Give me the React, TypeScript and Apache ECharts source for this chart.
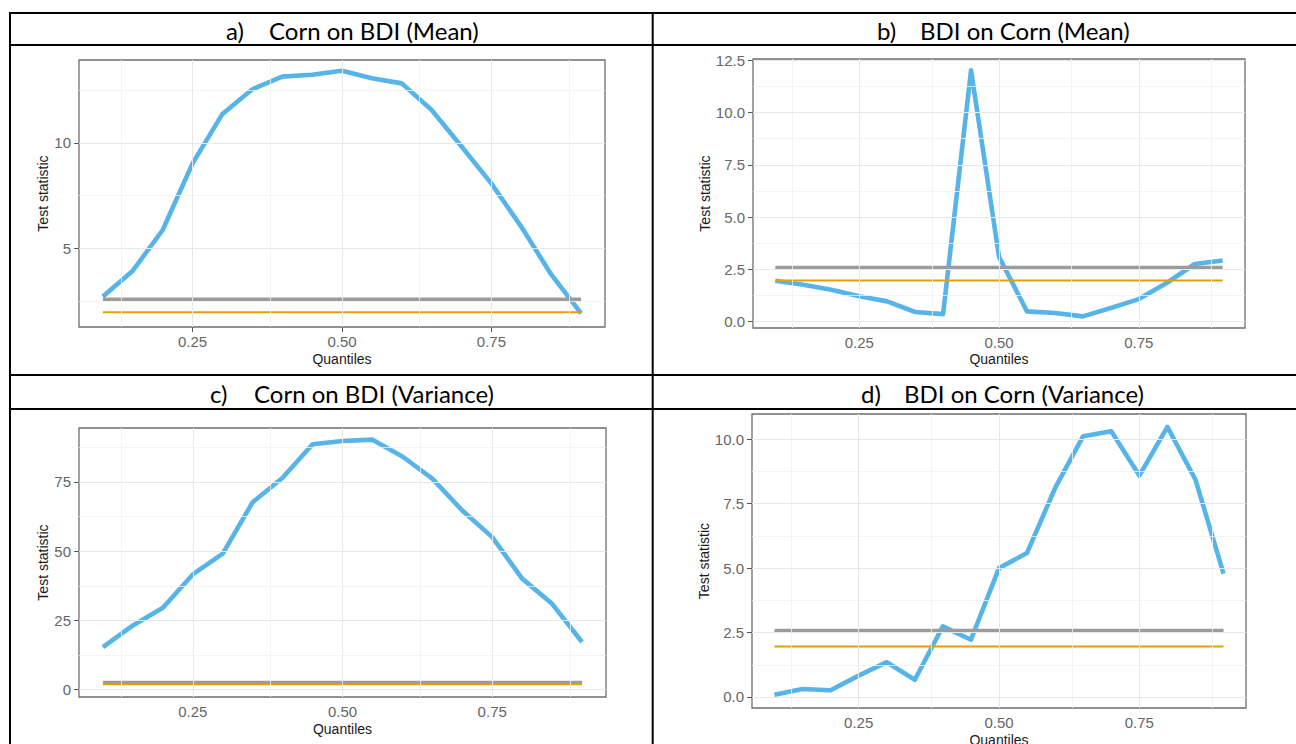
import React, { useEffect, useRef } from "react";
import * as echarts from "echarts";

// ---- data ----
const quantiles = [0.1, 0.15, 0.2, 0.25, 0.3, 0.35, 0.4, 0.45, 0.5, 0.55, 0.6, 0.65, 0.7, 0.75, 0.8, 0.85, 0.9];
const cornOnBdiMean = [2.71, 3.94, 5.87, 9.03, 11.38, 12.55, 13.15, 13.24, 13.43, 13.07, 12.83, 11.57, 9.83, 8.07, 6.02, 3.76, 1.91];
const bdiOnCornMean = [1.95, 1.76, 1.52, 1.2, 0.96, 0.45, 0.35, 12.03, 3.1, 0.48, 0.4, 0.24, 0.64, 1.07, 1.84, 2.75, 2.92];
const cornOnBdiVariance = [15.4, 23.2, 29.6, 41.6, 49.1, 67.7, 76.5, 88.6, 89.8, 90.3, 84.2, 76.2, 64.7, 55.1, 40.1, 31.0, 17.2];
const bdiOnCornVariance = [0.09, 0.31, 0.26, 0.83, 1.35, 0.67, 2.74, 2.22, 5.0, 5.59, 8.11, 10.12, 10.31, 8.59, 10.48, 8.43, 4.79];
const critical1pct = 2.58;
const critical5pct = 1.96;

const titles = [
  ["a)", "Corn on BDI (Mean)"],
  ["b)", "BDI on Corn (Mean)"],
  ["c)", "Corn on BDI (Variance)"],
  ["d)", "BDI on Corn (Variance)"],
];

const xTicks = [0.25, 0.5, 0.75];
const xMinor = [0.125, 0.375, 0.625, 0.875];
const yTicksA = [5, 10];
const yMinorA = [2.5, 7.5, 12.5];
const yTicksB = [0, 2.5, 5, 7.5, 10, 12.5];
const yMinorB = [1.25, 3.75, 6.25, 8.75, 11.25];
const yTicksC = [0, 25, 50, 75];
const yMinorC = [12.5, 37.5, 62.5, 87.5];
const yTicksD = [0, 2.5, 5, 7.5, 10];
const yMinorD = [1.25, 3.75, 6.25, 8.75];

const xAxisTitle = "Quantiles";
const yAxisTitle = "Test statistic";

const BLUE = "#56B4E9";
const GREY = "#9B9B9B";
const ORANGE = "#E69F00";

const panels = [
  { grid: { left: 79, top: 60, width: 526, height: 267 }, ymin: 1.265, ymax: 13.94, ticks: yTicksA, minor: yMinorA, values: cornOnBdiMean, fmt: (v: number) => String(v), yGap: 27, xGap: 25 },
  { grid: { left: 753, top: 59, width: 492, height: 269 }, ymin: -0.316, ymax: 12.57, ticks: yTicksB, minor: yMinorB, values: bdiOnCornMean, fmt: (v: number) => v.toFixed(1), yGap: 39, xGap: 24 },
  { grid: { left: 79, top: 428, width: 527, height: 269 }, ymin: -2.65, ymax: 94.5, ticks: yTicksC, minor: yMinorC, values: cornOnBdiVariance, fmt: (v: number) => String(v), yGap: 26, xGap: 25 },
  { grid: { left: 752, top: 414, width: 494, height: 294 }, ymin: -0.427, ymax: 10.98, ticks: yTicksD, minor: yMinorD, values: bdiOnCornVariance, fmt: (v: number) => v.toFixed(1), yGap: 39, xGap: 25 },
];

const titlePos = [
  { x1: 226, x2: 269, y: 30 },
  { x1: 877, x2: 920, y: 30 },
  { x1: 210, x2: 254, y: 393 },
  { x1: 861, x2: 904, y: 393 },
];

export default function App() {
  const ref = useRef<HTMLDivElement>(null);
  useEffect(() => {
    if (!ref.current) return;
    const chart = echarts.init(ref.current, null, { renderer: "svg" });

    const grids: any[] = [];
    const xAxes: any[] = [];
    const yAxes: any[] = [];
    const series: any[] = [];

    panels.forEach((p, i) => {
      grids.push({ ...p.grid, show: true, borderColor: "#6e6e6e", borderWidth: 1.3, backgroundColor: "transparent", containLabel: false, outerBoundsMode: "none" });
      xAxes.push({
        type: "value", gridIndex: i, min: 0.06, max: 0.94,
        name: xAxisTitle, nameLocation: "middle", nameGap: p.xGap,
        nameTextStyle: { fontSize: 14, color: "#1a1a1a", fontFamily: "Liberation Sans" },
        axisLine: { show: false },
        axisTick: { show: true, customValues: xTicks, length: 5, lineStyle: { color: "#555", width: 1 } },
        axisLabel: { customValues: xTicks, formatter: (v: number) => v.toFixed(2), fontSize: 15, color: "#666", margin: 7, fontFamily: "Liberation Sans" },
        splitLine: { show: false },
      });
      yAxes.push({
        type: "value", gridIndex: i, min: p.ymin, max: p.ymax,
        name: yAxisTitle, nameLocation: "middle", nameGap: p.yGap, nameRotate: 90,
        nameTextStyle: { fontSize: 14, color: "#1a1a1a", fontFamily: "Liberation Sans" },
        axisLine: { show: false },
        axisTick: { show: true, customValues: p.ticks, length: 5, lineStyle: { color: "#555", width: 1 } },
        axisLabel: { customValues: p.ticks, formatter: p.fmt, fontSize: 15, color: "#666", margin: 8, fontFamily: "Liberation Sans" },
        splitLine: { show: false },
      });
      const major = { color: "#E8E8E8", width: 1, type: "solid" };
      const minorStyle = { color: "#F1F1F1", width: 0.8, type: "solid" };
      series.push({
        type: "line", xAxisIndex: i, yAxisIndex: i, data: [], z: 1, silent: true,
        markLine: {
          silent: true, symbol: ["none", "none"], label: { show: false }, animation: false,
          emphasis: { disabled: true },
          data: [
            ...xMinor.map((v) => ({ xAxis: v, lineStyle: minorStyle })),
            ...p.minor.map((v) => ({ yAxis: v, lineStyle: minorStyle })),
            ...xTicks.map((v) => ({ xAxis: v, lineStyle: major })),
            ...p.ticks.map((v) => ({ yAxis: v, lineStyle: major })),
          ],
        },
      });
      series.push({
        type: "line", xAxisIndex: i, yAxisIndex: i, z: 2, showSymbol: false, silent: true,
        data: quantiles.map((q, k) => [q, p.values[k]]),
        lineStyle: { color: BLUE, width: 4.6, cap: "butt", join: "round" },
        emphasis: { disabled: true },
      });
      series.push({
        type: "line", xAxisIndex: i, yAxisIndex: i, z: 3, showSymbol: false, silent: true,
        data: [[quantiles[0], critical1pct], [quantiles[quantiles.length - 1], critical1pct]],
        lineStyle: { color: GREY, width: 3.6, cap: "butt" },
        emphasis: { disabled: true },
      });
      series.push({
        type: "line", xAxisIndex: i, yAxisIndex: i, z: 4, showSymbol: false, silent: true,
        data: [[quantiles[0], critical5pct], [quantiles[quantiles.length - 1], critical5pct]],
        lineStyle: { color: ORANGE, width: 2, cap: "butt" },
        emphasis: { disabled: true },
      });
    });

    const line = (x1: number, y1: number, x2: number, y2: number) => ({
      type: "line", shape: { x1, y1, x2, y2 }, style: { stroke: "#000", lineWidth: 2 }, silent: true,
    });

    const graphic: any[] = [
      line(9, 13, 1296, 13),
      line(10, 12, 10, 744),
      line(652.7, 12, 652.7, 744),
      line(9, 45, 1296, 45),
      line(9, 375, 1296, 375),
      line(9, 409, 1296, 409),
    ];
    titles.forEach((t, i) => {
      const pos = titlePos[i];
      graphic.push({ type: "text", x: pos.x1, y: pos.y, silent: true, style: { text: t[0], fontSize: 24, fontFamily: "Lato", fill: "#000", textAlign: "left", textVerticalAlign: "middle" } });
      graphic.push({ type: "text", x: pos.x2, y: pos.y, silent: true, style: { text: t[1], fontSize: 24, fontFamily: "Lato", fill: "#000", textAlign: "left", textVerticalAlign: "middle" } });
    });

    chart.setOption({
      animation: false,
      backgroundColor: "#fff",
      textStyle: { fontFamily: "Liberation Sans" },
      grid: grids,
      xAxis: xAxes,
      yAxis: yAxes,
      series,
      graphic,
    });
    return () => chart.dispose();
  }, []);
  return <div ref={ref} style={{ position: "absolute", left: 0, top: 0, width: 1296, height: 744 }} />;
}
